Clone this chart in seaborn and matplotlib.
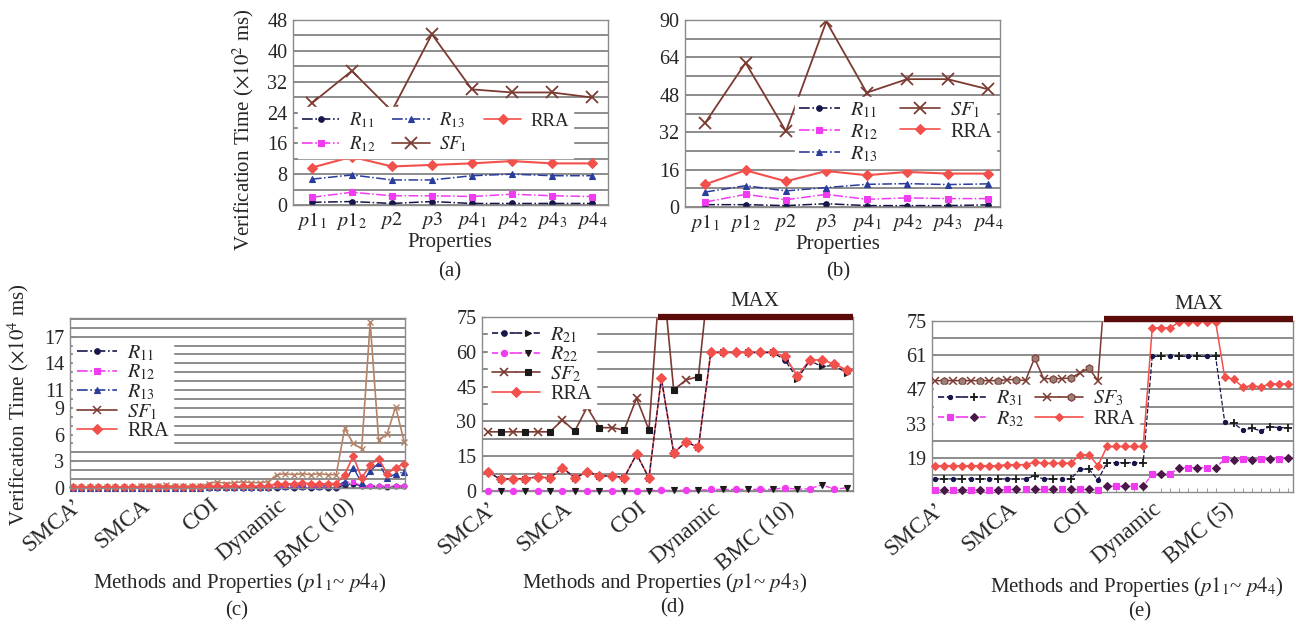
import numpy as np
import matplotlib
matplotlib.use("Agg")
import matplotlib.pyplot as plt
import seaborn as sns
from matplotlib.lines import Line2D
from matplotlib.legend_handler import HandlerTuple

# ---------------- data ----------------
props = [r'$p1_1$', r'$p1_2$', r'$p2$', r'$p3$', r'$p4_1$', r'$p4_2$', r'$p4_3$', r'$p4_4$']

# (a) verification time, x10^2 ms
a_R11 = [0.7, 0.9, 0.4, 0.9, 0.4, 0.4, 0.4, 0.4]
a_R12 = [2.0, 3.3, 2.4, 2.4, 2.2, 2.8, 2.4, 2.2]
a_R13 = [6.7, 7.8, 6.5, 6.5, 7.6, 8.0, 7.6, 7.6]
a_SF1 = [26.4, 34.8, 24.4, 44.3, 30.0, 29.2, 29.2, 27.9]
a_RRA = [9.7, 12.5, 10.0, 10.4, 10.8, 11.4, 10.8, 10.8]

# (b) verification time, x10^2 ms
b_R11 = [1.0, 1.0, 0.6, 1.4, 0.6, 0.6, 0.6, 0.9]
b_R12 = [2.1, 5.4, 3.1, 5.4, 3.3, 3.9, 3.6, 3.6]
b_R13 = [6.4, 9.1, 6.9, 8.3, 9.7, 10.0, 9.6, 9.9]
b_SF1 = [36.0, 61.7, 32.4, 89.0, 48.9, 54.7, 54.7, 50.4]
b_RRA = [9.7, 15.7, 11.0, 15.4, 13.6, 15.0, 14.3, 14.3]

groups_cd = ['SMCA’', 'SMCA', 'COI', 'Dynamic', 'BMC (10)']
groups_e = ['SMCA’', 'SMCA', 'COI', 'Dynamic', 'BMC (5)']

# (c) x10^4 ms, 5 methods x 8 properties
c_R11 = [0.03, 0.03, 0.03, 0.03, 0.03, 0.03, 0.03, 0.03,
         0.03, 0.03, 0.03, 0.03, 0.03, 0.03, 0.03, 0.03,
         0.04, 0.04, 0.04, 0.04, 0.04, 0.04, 0.04, 0.04,
         0.05, 0.06, 0.05, 0.06, 0.05, 0.06, 0.05, 0.05,
         0.35, 0.50, 0.20, 0.20, 0.20, 0.15, 0.20, 0.20]
c_R12 = [0.05, 0.05, 0.05, 0.05, 0.05, 0.05, 0.05, 0.05,
         0.05, 0.05, 0.05, 0.05, 0.05, 0.05, 0.05, 0.05,
         0.06, 0.06, 0.06, 0.06, 0.06, 0.06, 0.06, 0.06,
         0.10, 0.10, 0.10, 0.10, 0.10, 0.10, 0.10, 0.10,
         0.60, 0.70, 0.20, 0.20, 0.20, 0.20, 0.20, 0.20]
c_R13 = [0.05, 0.05, 0.05, 0.05, 0.05, 0.05, 0.05, 0.05,
         0.05, 0.05, 0.05, 0.05, 0.05, 0.05, 0.05, 0.05,
         0.10, 0.10, 0.10, 0.10, 0.10, 0.10, 0.10, 0.10,
         0.25, 0.25, 0.25, 0.25, 0.25, 0.25, 0.25, 0.25,
         0.70, 2.30, 0.60, 1.90, 2.80, 1.10, 1.60, 1.80]
c_SF1 = [0.10, 0.10, 0.10, 0.15, 0.10, 0.10, 0.10, 0.10,
         0.20, 0.25, 0.20, 0.30, 0.20, 0.20, 0.25, 0.20,
         0.50, 0.70, 0.50, 0.60, 0.70, 0.60, 0.60, 0.70,
         1.50, 1.60, 1.50, 1.60, 1.50, 1.60, 1.50, 1.50,
         6.70, 5.00, 4.40, 18.6, 5.40, 6.10, 9.10, 5.20]
c_RRA = [0.10, 0.10, 0.10, 0.10, 0.10, 0.10, 0.10, 0.10,
         0.10, 0.10, 0.10, 0.10, 0.10, 0.10, 0.10, 0.10,
         0.20, 0.20, 0.20, 0.20, 0.20, 0.20, 0.20, 0.20,
         0.50, 0.45, 0.50, 0.55, 0.50, 0.45, 0.50, 0.50,
         1.50, 3.60, 1.10, 2.60, 3.30, 1.60, 2.30, 2.70]

TIMEOUT = 100  # run reached MAX

# (d) 5 methods x 6 properties
T = TIMEOUT
d_R21 = [8.2, 5.0, 5.3, 5.3, 6.1, 5.6,
         10.1, 5.6, 8.2, 6.5, 6.5, 5.8,
         15.9, 5.6, 48.6, 16.4, 21.2, 18.8,
         59.7, 59.7, 59.7, 59.7, 59.7, 59.7,
         56.5, 48.3, 56.1, 53.7, 54.1, 50.8]
d_R22 = [0.2, 0.2, 0.2, 0.2, 0.2, 0.2,
         0.2, 0.2, 0.2, 0.2, 0.2, 0.2,
         0.2, 0.2, 0.3, 0.3, 0.3, 0.3,
         0.7, 0.7, 0.7, 0.7, 0.7, 0.7,
         1.4, 0.7, 1.0, 2.7, 0.7, 1.4]
d_SF2 = [25.5, 25.5, 25.5, 25.5, 25.5, 25.5,
         30.6, 25.8, 36.1, 27.3, 27.3, 26.3,
         40.0, 26.3, T, 43.6, 47.9, 49.3,
         T, T, T, T, T, T,
         T, T, T, T, T, T]
d_RRA = [8.2, 5.0, 5.3, 5.3, 6.1, 5.6,
         10.1, 5.6, 8.2, 6.5, 6.5, 5.8,
         15.9, 5.6, 48.6, 16.4, 21.2, 18.8,
         59.7, 59.7, 59.7, 59.7, 59.7, 59.7,
         58.0, 49.6, 56.5, 56.5, 54.7, 52.2]

# (e) 5 methods x 8 properties
e_R31 = [10.6, 10.6, 10.6, 10.6, 10.6, 10.6, 10.6, 10.6,
         10.6, 10.6, 10.6, 11.8, 10.6, 10.6, 10.6, 10.6,
         14.6, 14.6, 10.2, 17.2, 17.2, 17.2, 17.2, 17.2,
         60.5, 60.5, 60.5, 60.5, 60.5, 60.5, 60.5, 60.5,
         33.9, 33.2, 30.5, 31.2, 30.2, 31.9, 31.5, 31.5]
e_R32 = [6.1, 6.1, 6.1, 6.1, 6.1, 6.1, 6.1, 6.1,
         6.3, 6.3, 6.3, 6.3, 6.3, 6.3, 6.3, 6.3,
         6.3, 6.3, 6.1, 7.6, 7.6, 7.6, 7.6, 7.6,
         12.6, 12.6, 12.6, 15.2, 15.2, 15.2, 15.2, 15.2,
         18.6, 18.4, 18.6, 18.4, 18.6, 18.6, 18.8, 19.2]
e_SF3 = [50.6, 50.6, 50.6, 50.6, 50.6, 50.6, 50.6, 50.6,
         51.0, 51.0, 50.6, 59.8, 51.4, 51.4, 51.4, 51.7,
         53.7, 55.7, 50.6, T, T, T, T, T,
         T, T, T, T, T, T, T, T,
         T, T, T, T, T, T, T, T]
e_RRA = [16.0, 16.0, 16.0, 16.0, 16.0, 16.0, 16.0, 16.0,
         16.4, 16.4, 16.4, 17.4, 17.0, 17.0, 17.0, 17.0,
         20.4, 20.4, 16.0, 23.8, 23.8, 23.8, 23.8, 23.8,
         72.1, 72.1, 72.1, 74.6, 74.6, 74.6, 74.6, 74.6,
         52.1, 51.2, 48.0, 48.5, 48.0, 49.3, 49.3, 49.3]

# ---------------- style ----------------
sns.set_style('white')
plt.rcParams['font.family'] = ['Liberation Serif', 'DejaVu Serif']
plt.rcParams['mathtext.fontset'] = 'stix'

NAVY = '#16164a'
MAGENTA = '#f03cf0'
BLUE = '#2a3c9c'
BROWN = '#7c3b32'
TAN = '#b58468'
RED = '#f2504b'
DARK = '#1a1a1a'
PURPLE = '#4a1848'
MAXC = '#5c0b0b'
GRID = '#6e6e6e'
SPINE = '#8a8a8a'
FS_TICK = 14.5
FS_GROUP = 16.5
FS_LABEL = 15
FS_LEG = 14.5

W, H = 1296, 627
fig = plt.figure(figsize=(12.96, 6.27), dpi=100)


def box(l, t, r, b):
    return [l / W, 1 - b / H, (r - l) / W, (b - t) / H]


def line(ax, y, color, ls='-', lw=1.2, marker=None, ms=5, mfc=None, mec=None,
         mew=0.8, every=None, z=2, clip=True):
    sns.lineplot(x=np.arange(len(y)), y=y, ax=ax, estimator=None, errorbar=None,
                 color=color, linestyle=ls, linewidth=lw, marker=marker,
                 markersize=ms, markerfacecolor=mfc or color,
                 markeredgecolor=mec or color, markeredgewidth=mew,
                 markevery=every, zorder=z, clip_on=clip)


def h(color, ls, marker, ms=5, mfc=None, mec=None, mew=0.8, lw=1.2):
    return Line2D([], [], color=color, linestyle=ls, linewidth=lw, marker=marker,
                  markersize=ms, markerfacecolor=mfc or color,
                  markeredgecolor=mec or color, markeredgewidth=mew)


def setup(ax, ylim, ticks, minor, labels=None):
    ax.set_ylim(*ylim)
    ax.set_yticks(ticks)
    if labels is not None:
        ax.set_yticklabels(labels)
    ax.set_yticks(minor, minor=True)
    ax.yaxis.grid(True, which='both', color=GRID, linewidth=1.1)
    ax.xaxis.grid(False)
    ax.set_axisbelow(True)
    for sp in ax.spines.values():
        sp.set_visible(True)
        sp.set_color(SPINE)
        sp.set_linewidth(1.0)
    ax.tick_params(axis='y', which='both', direction='in', length=3, color=SPINE,
                   labelsize=FS_TICK, pad=4, left=True)
    ax.tick_params(axis='x', which='both', length=0)
    ax.set_xlabel('')
    ax.set_ylabel('')


def leg(ax, handles, labels, anchor, ncol=1, **kw):
    opts = dict(loc='upper left', bbox_to_anchor=anchor, ncol=ncol, fontsize=FS_LEG,
                frameon=True, framealpha=1, facecolor='white', edgecolor='white',
                fancybox=False, borderpad=0.2, borderaxespad=0, handlelength=2.0,
                handletextpad=0.5, columnspacing=1.0, labelspacing=0.15)
    opts.update(kw)
    return ax.legend(handles, labels, **opts)


def groups_axis(ax, names, per):
    ax.set_xticks([i * per for i in range(len(names))])
    ax.set_xticklabels(names, rotation=40, ha='right', va='top',
                       rotation_mode='anchor', fontsize=FS_GROUP)
    ax.tick_params(axis='x', pad=5)


def max_bar(ax, series, top):
    x0 = series.index(TIMEOUT) - 0.3
    x1 = ax.get_xlim()[1]
    ax.hlines(top, x0, x1, colors=MAXC, linewidth=4.5, clip_on=False, zorder=6)
    ax.annotate('MAX', ((x0 + x1) / 2, top), xytext=(0, 4), textcoords='offset points',
                ha='center', va='bottom', fontsize=FS_LABEL, annotation_clip=False)


# ---------------- (a) ----------------
axa = fig.add_axes(box(293, 20, 608, 205))
line(axa, a_R11, NAVY, '-.', 1.1, 'o', 4)
line(axa, a_R12, MAGENTA, '-.', 1.1, 's', 4.5)
line(axa, a_R13, BLUE, '-.', 1.1, '^', 5)
line(axa, a_SF1, BROWN, '-', 1.3, 'x', 8, mew=1.3)
line(axa, a_RRA, RED, '-', 1.5, 'D', 5)
axa.set_xlim(-0.47, 7.4)
axa.set_xticks(range(8))
axa.set_xticklabels(props, fontsize=FS_TICK)
setup(axa, (0, 48), range(0, 49, 8), range(4, 48, 8))
hs = [h(NAVY, '-.', 'o', 4), h(MAGENTA, '-.', 's', 4.5), h(BLUE, '-.', '^', 5),
      h(BROWN, '-', 'x', 8, mew=1.3), h(RED, '-', 'D', 5)]
lb = [r'$R_{11}$', r'$R_{12}$', r'$R_{13}$', r'$SF_1$', 'RRA']
leg(axa, hs, lb, (0.016, 0.53), ncol=3, columnspacing=0.9, fontsize=13.5,
    labelspacing=0.2)

# ---------------- (b) ----------------
def fwd(v):
    v = np.asarray(v, dtype=float)
    return np.where(v <= 64, v, 64 + (v - 64) * 16 / 26)


def inv(v):
    v = np.asarray(v, dtype=float)
    return np.where(v <= 64, v, 64 + (v - 64) * 26 / 16)


axb = fig.add_axes(box(685, 20, 1000, 207))
axb.set_yscale('function', functions=(fwd, inv))
line(axb, b_R11, NAVY, '-.', 1.1, 'o', 4)
line(axb, b_R12, MAGENTA, '-.', 1.1, 's', 4.5)
line(axb, b_R13, BLUE, '-.', 1.1, '^', 5)
line(axb, b_SF1, BROWN, '-', 1.3, 'x', 8, mew=1.3)
line(axb, b_RRA, RED, '-', 1.5, 'D', 5)
axb.set_xlim(-0.5, 7.3)
axb.set_xticks(range(8))
axb.set_xticklabels(props, fontsize=FS_TICK)
setup(axb, (0, 90), [0, 16, 32, 48, 64, 90], [8, 24, 40, 56, 77])
leg(axb, hs, lb, (0.35, 0.59), ncol=2, columnspacing=1.1, labelspacing=0.1)

# ---------------- (c) ----------------
axc = fig.add_axes(box(70, 318, 405, 488))
line(axc, c_R11, NAVY, '-.', 1.0, 'o', 3.5, clip=False)
line(axc, c_R12, MAGENTA, '-.', 1.0, 's', 3.5, clip=False)
line(axc, c_R13, BLUE, '-.', 1.0, '^', 4, clip=False)
line(axc, c_SF1, TAN, '-', 1.2, 'x', 5, mew=1.0, z=1.8, clip=False)
line(axc, c_RRA, RED, '-', 1.2, 'D', 4, clip=False)
axc.set_xlim(-0.35, 39.1)
groups_axis(axc, groups_cd, 8)
setup(axc, (0, 19.1), [0, 3, 6, 9, 11, 14, 17], range(0, 20))
hs_c = [h(NAVY, '-.', 'o', 4), h(MAGENTA, '-.', 's', 4.5), h(BLUE, '-.', '^', 5),
        h(BROWN, '-', 'x', 6, mew=1.1), h(RED, '-', 'D', 5)]
leg(axc, hs_c, lb, (0.008, 0.875), labelspacing=0.0)

# ---------------- (d) ----------------
axd = fig.add_axes(box(482, 317, 853, 491))
line(axd, d_SF2, BROWN, '-', 1.2, z=2)
line(axd, d_SF2, BROWN, 'none', marker='x', ms=6, mew=1.2, every=(0, 2), z=3)
line(axd, d_SF2, DARK, 'none', marker='s', ms=4.5, every=(1, 2), z=3)
line(axd, d_R22, MAGENTA, '--', 1.0, z=2.5, clip=False)
line(axd, d_R22, MAGENTA, 'none', marker='o', ms=4.5, every=(0, 2), z=3, clip=False)
line(axd, d_R22, DARK, 'none', marker='v', ms=5, every=(1, 2), z=3, clip=False)
line(axd, d_RRA, RED, '-', 1.2, z=2.6, clip=False)
line(axd, d_R21, NAVY, 'none', marker='o', ms=4, every=(0, 2), z=3.2, clip=False)
line(axd, d_R21, DARK, 'none', marker='>', ms=4.5, every=(1, 2), z=3.2, clip=False)
line(axd, d_R21, NAVY, '--', 0.9, z=3.4, clip=False)
line(axd, d_RRA, RED, 'none', marker='D', ms=5.5, z=3.6, clip=False)
axd.set_xlim(-0.5, 29.5)
groups_axis(axd, groups_cd, 6)
setup(axd, (0, 75), range(0, 76, 15), np.arange(7.5, 75, 15))
max_bar(axd, d_SF2, 75)
hs_d = [(h(NAVY, '--', 'o', 4), h(NAVY, '--', '>', 4.5, mfc=DARK, mec=DARK)),
        (h(MAGENTA, '--', 'o', 4.5), h(MAGENTA, '--', 'v', 5, mfc=DARK, mec=DARK)),
        (h(BROWN, '-', 'x', 6, mew=1.2), h(BROWN, '-', 's', 4.5, mfc=DARK, mec=DARK)),
        h(RED, '-', 'D', 5)]
lb_d = [r'$R_{21}$', r'$R_{22}$', r'$SF_2$', 'RRA']
leg(axd, hs_d, lb_d, (0.016, 0.975), labelspacing=0.0, handlelength=2.4,
    handler_map={tuple: HandlerTuple(ndivide=2, pad=0.0)})

# ---------------- (e) ----------------
axe = fig.add_axes(box(932, 320.7, 1293, 491.7))
line(axe, e_SF3, BROWN, '-', 1.1, z=2)
line(axe, e_SF3, BROWN, 'none', marker='x', ms=5.5, mew=1.1, every=(0, 2), z=3)
line(axe, e_SF3, '#9c7f76', 'none', marker='h', ms=5.5, mec=BROWN, every=(1, 2), z=3)
line(axe, e_R32, MAGENTA, '--', 1.0, z=2.5, clip=False)
line(axe, e_R32, MAGENTA, 'none', marker='s', ms=4, every=(0, 2), z=3, clip=False)
line(axe, e_R32, PURPLE, 'none', marker='D', ms=4.5, every=(1, 2), z=3, clip=False)
line(axe, e_R31, NAVY, '--', 0.9, z=2.5, clip=False)
line(axe, e_R31, NAVY, 'none', marker='o', ms=3, every=(0, 2), z=3, clip=False)
line(axe, e_R31, DARK, 'none', marker='+', ms=6, mew=1.3, every=(1, 2), z=3, clip=False)
line(axe, e_RRA, RED, '-', 1.1, 'D', 4.5, z=3.5, clip=False)
axe.set_xlim(-0.33, 39.55)
groups_axis(axe, groups_e, 8)
setup(axe, (5.4, 75), [19, 33, 47, 61, 75], [12, 26, 40, 54, 68])
axe.set_xticks(range(40), minor=True)
axe.tick_params(axis='x', which='minor', direction='in', length=3, bottom=True, color=SPINE)
max_bar(axe, e_SF3, 75.6)
hs_e = [(h(NAVY, '--', 'o', 3), h(NAVY, '--', '+', 6, mfc=DARK, mec=DARK, mew=1.3)),
        (h(MAGENTA, '--', 's', 4), h(MAGENTA, '--', 'D', 4.5, mfc=PURPLE, mec=PURPLE)),
        (h(BROWN, '-', 'x', 5.5, mew=1.1), h(BROWN, '-', 'h', 5.5, mfc='#9c7f76', mec=BROWN)),
        h(RED, '-', 'D', 4.5)]
lb_e = [r'$R_{31}$', r'$R_{32}$', r'$SF_3$', 'RRA']
leg(axe, hs_e, lb_e, (0.005, 0.625), ncol=2, labelspacing=0.05, handlelength=2.4,
    columnspacing=0.5, handler_map={tuple: HandlerTuple(ndivide=2, pad=0.0)})

# ---------------- figure texts ----------------
def ftext(x, y, s, **kw):
    fig.text(x / W, 1 - y / H, s, ha='center', va='center', fontsize=FS_LABEL, **kw)


ftext(243, 130, r'Verification Time ($\times10^{2}$ ms)', rotation=90)
ftext(450, 243, 'Properties')
ftext(450, 272, '(a)')
ftext(838, 245, 'Properties')
ftext(838, 272, '(b)')
ftext(18, 405, r'Verification Time ($\times10^{4}$ ms)', rotation=90)
ftext(240, 583, r'Methods and Properties ($p1_1$~ $p4_4$)')
ftext(237, 611, '(c)')
ftext(665, 583, r'Methods and Properties ($p1$~ $p4_3$)')
ftext(672, 608, '(d)')
ftext(1137, 587, r'Methods and Properties ($p1_1$~ $p4_4$)')
ftext(1140, 612, '(e)')

fig.savefig('out.png', dpi=100)
